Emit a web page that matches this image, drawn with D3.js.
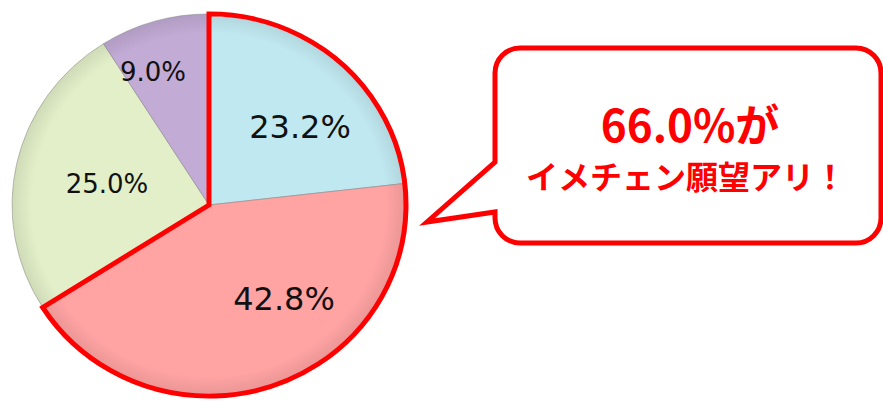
<!DOCTYPE html>
<html><head><meta charset="utf-8">
<script src="https://cdn.jsdelivr.net/npm/d3@7"></script>
<style>html,body{margin:0;padding:0;background:#fff;overflow:hidden}</style>
</head><body>
<svg id="c" width="883" height="401"></svg>
<script>
const categories = ["A", "B", "C", "D"];
const values = [23.2, 42.8, 25.0, 9.0];
const labels = ["23.2%", "42.8%", "25.0%", "9.0%"];
const colors = ["#c0e8f0", "#ffa3a3", "#e2efc8", "#c2abd5"];
const highlightIdx = [0, 1];
const calloutLines = ["66.0%が", "イメチェン願望アリ！"];

const svg = d3.select("#c");
const cx = 209, cy = 205, r = 197, sy = 0.97;

const defs = svg.append("defs");
colors.forEach((c, i) => {
  const g = defs.append("radialGradient").attr("id", "g" + i)
    .attr("gradientUnits", "userSpaceOnUse").attr("cx", 0).attr("cy", 0).attr("r", r);
  g.append("stop").attr("offset", "0.9").attr("stop-color", c);
  g.append("stop").attr("offset", "1").attr("stop-color", d3.color(c).darker(0.25));
});

const pie = d3.pie().sort(null).value(d => d);
const arcs = pie(values);
const arc = d3.arc().innerRadius(0).outerRadius(r);

const g = svg.append("g").attr("transform", `translate(${cx},${cy}) scale(1,${sy})`);
g.selectAll("path.slice").data(arcs).join("path")
  .attr("class", "slice")
  .attr("d", arc)
  .attr("fill", (d, i) => `url(#g${i})`)
  .attr("stroke", "rgba(120,120,120,0.45)")
  .attr("stroke-width", 1);

// highlight outline around the combined slices
const hStart = arcs[highlightIdx[0]].startAngle;
const hEnd = arcs[highlightIdx[highlightIdx.length - 1]].endAngle;
g.append("path")
  .attr("d", d3.arc().innerRadius(0).outerRadius(r)({startAngle: hStart, endAngle: hEnd}))
  .attr("fill", "none").attr("stroke", "#ff0000").attr("stroke-width", 5)
  .attr("stroke-linejoin", "miter");

// labels
const labelPos = [
  {x: 300, y: 138, s: 32},
  {x: 284, y: 310, s: 32},
  {x: 107, y: 193, s: 26},
  {x: 153, y: 81, s: 26}
];
svg.selectAll("text.lbl").data(labels).join("text")
  .attr("class", "lbl")
  .attr("x", (d, i) => labelPos[i].x)
  .attr("y", (d, i) => labelPos[i].y)
  .attr("text-anchor", "middle")
  .attr("font-family", "DejaVu Sans, Verdana, sans-serif")
  .attr("font-size", (d, i) => labelPos[i].s)
  .attr("fill", "#111")
  .text(d => d);

// callout
const L = 495, T = 48, R = 881, B = 243, cr = 25;
const tail = {y1: 162, tx: 427, ty: 222, y2: 212};
const p = d3.path();
p.moveTo(L + cr, T);
p.lineTo(R - cr, T);
p.arcTo(R, T, R, T + cr, cr);
p.lineTo(R, B - cr);
p.arcTo(R, B, R - cr, B, cr);
p.lineTo(L + cr, B);
p.arcTo(L, B, L, B - cr, cr);
p.lineTo(L, tail.y2);
p.lineTo(tail.tx, tail.ty);
p.lineTo(L, tail.y1);
p.lineTo(L, T + cr);
p.arcTo(L, T, L + cr, T, cr);
p.closePath();
svg.append("path").attr("d", p.toString())
  .attr("fill", "#fff").attr("stroke", "#ff0000").attr("stroke-width", 5)
  .attr("stroke-linejoin", "miter");

svg.append("text").attr("x", 690).attr("y", 142)
  .attr("text-anchor", "middle")
  .attr("font-family", "Noto Sans CJK JP, sans-serif")
  .attr("font-weight", 700).attr("font-size", 44)
  .attr("fill", "#ff0000").text(calloutLines[0]);
svg.append("text").attr("x", 686).attr("y", 189)
  .attr("text-anchor", "middle")
  .attr("font-family", "Noto Sans CJK JP, sans-serif")
  .attr("font-weight", 700).attr("font-size", 32)
  .attr("fill", "#ff0000").text(calloutLines[1]);
</script>
</body></html>
